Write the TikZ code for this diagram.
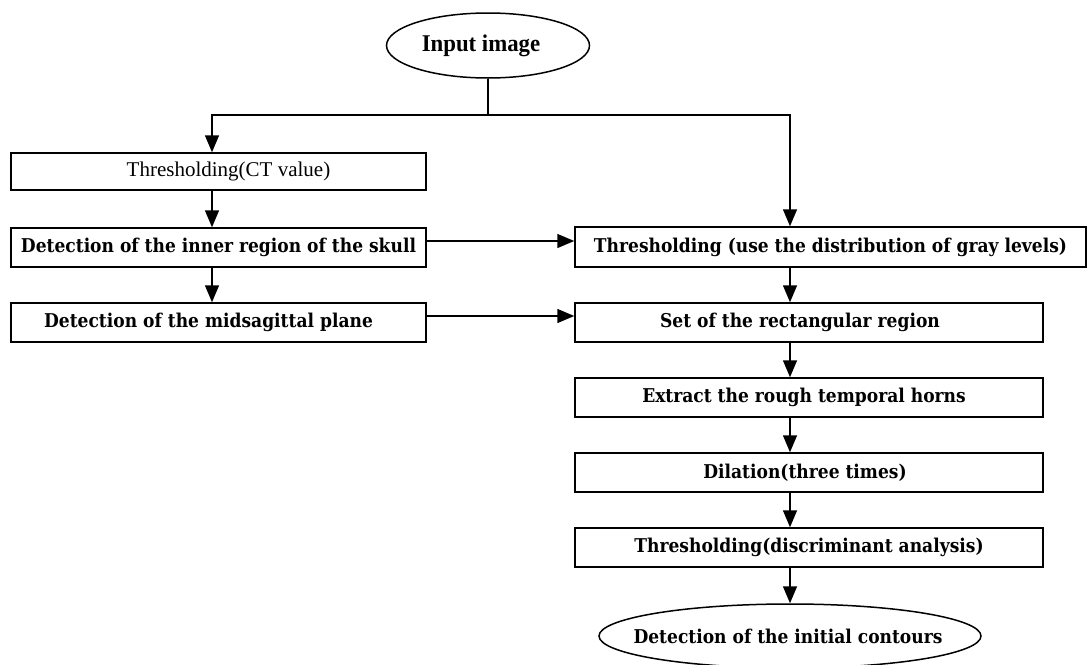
\documentclass[tikz,border=0pt]{standalone}
\usepackage{fontspec}
\setmainfont{DejaVu Serif}[BoldFeatures={FakeStretch=0.9}]
\newfontfamily\timesf{Liberation Serif}[BoldFeatures={FakeStretch=0.95}]
\usetikzlibrary{arrows.meta,shapes.geometric}
\tikzset{
  box/.style={draw,line width=1.5pt,rectangle,inner sep=0pt,font=\fontsize{19}{22}\selectfont\bfseries},
  oval/.style={draw,line width=1.5pt,ellipse,inner xsep=-80pt,inner ysep=-10pt,font=\fontsize{19}{22}\selectfont\bfseries},
  conn/.style={line width=1.5pt},
  arr/.style={line width=1.5pt,-{Triangle[length=17pt,width=14pt]}}
}
\begin{document}
\begin{tikzpicture}[x=1pt,y=-1pt]
\useasboundingbox[fill=white] (0,0) rectangle (1087,664);
% nodes
\node[oval,minimum width=203pt,minimum height=65pt] (e1) at (488,45.5) {\timesf\fontsize{24}{28}\selectfont\bfseries Input image\hspace*{14pt}};
\node[box,minimum width=415pt,minimum height=37pt] (b1) at (218.5,171.5) {\timesf\fontsize{21}{24}\selectfont\mdseries\hspace*{20pt}Thresholding(CT value)};
\node[box,minimum width=415pt,minimum height=39pt] (b2) at (218.5,247.5) {Detection of the inner region of the skull};
\node[box,minimum width=415pt,minimum height=39pt] (b3) at (218.5,322.5) {Detection of the midsagittal plane\hspace*{20pt}};
\node[box,minimum width=511pt,minimum height=40pt] (b4) at (830.5,247) {Thresholding (use the distribution of gray levels)};
\node[box,minimum width=468pt,minimum height=39pt] (b5) at (809,322.5) {Set of the rectangular region\hspace*{18pt}};
\node[box,minimum width=468pt,minimum height=39pt] (b6) at (809,397.5) {Extract the rough temporal horns\hspace*{10pt}};
\node[box,minimum width=468pt,minimum height=39pt] (b7) at (809,472.5) {Dilation(three times)\hspace*{8pt}};
\node[box,minimum width=468pt,minimum height=39pt] (b8) at (809,547.5) {Thresholding(discriminant analysis)};
\node[oval,minimum width=382pt,minimum height=64pt] (e2) at (790,636) {Detection of the initial contours\hspace*{4pt}};
% helper coordinates
\coordinate (lc) at (212,0);
\coordinate (rc) at (790,0);
\coordinate (br) at (488,115);
% connectors
\draw[conn] (e1.south) -- (br);
\draw[arr] (br) -| (b1.north -| lc);
\draw[arr] (br) -| (b4.north -| rc);
\draw[arr] (b1.south -| lc) -- (b2.north -| lc);
\draw[arr] (b2.south -| lc) -- (b3.north -| lc);
\draw[arr] ([yshift=6.5pt]b2.east) -- ([yshift=6.5pt]b2.east -| b4.west);
\draw[arr] ([yshift=6.5pt]b3.east) -- ([yshift=6.5pt]b3.east -| b5.west);
\draw[arr] (b4.south -| rc) -- (b5.north -| rc);
\draw[arr] (b5.south -| rc) -- (b6.north -| rc);
\draw[arr] (b6.south -| rc) -- (b7.north -| rc);
\draw[arr] (b7.south -| rc) -- (b8.north -| rc);
\draw[arr] (b8.south -| rc) -- (e2.north);
\end{tikzpicture}
\end{document}
